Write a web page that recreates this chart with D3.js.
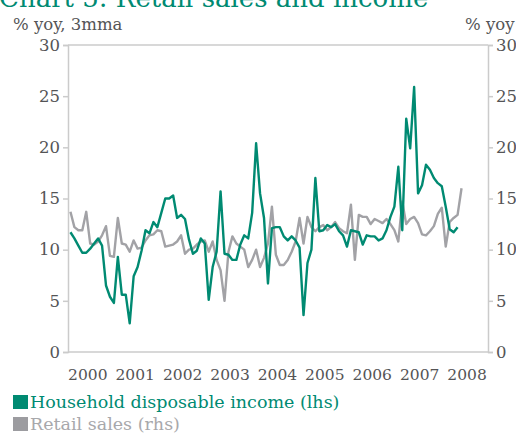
<!DOCTYPE html>
<html>
<head>
<meta charset="utf-8">
<script src="https://cdn.jsdelivr.net/npm/d3@7"></script>
<style>
  body { margin: 0; background: #fff; }
  svg { display: block; font-family: 'DejaVu Serif', serif; }
</style>
</head>
<body>
<svg id="chart" width="516" height="433"></svg>
<script>
// monthly data, first point Feb 2000 (month index 1 = Feb 2000)
const incomeStart = 1;
const incomeValues = [
  11.7, 11.1, 10.4, 9.7, 9.7, 10.1, 10.6, 11.1, 10.4, 6.5,
  5.4, 4.8, 9.3, 5.6, 5.6, 2.8, 7.4, 8.3, 9.9, 11.9,
  11.6, 12.7, 12.2, 13.6, 15.0, 15.0, 15.3, 13.1, 13.4, 13.0,
  11.0, 9.6, 9.9, 11.1, 10.6, 5.1, 8.3, 9.8, 15.7, 9.6,
  9.5, 9.0, 9.0, 10.5, 11.4, 11.1, 13.6, 20.4, 15.5, 13.1,
  6.7, 12.1, 12.2, 12.2, 11.3, 10.9, 11.3, 10.9, 10.2, 3.6,
  8.7, 10.0, 17.0, 11.8, 11.9, 12.4, 12.2, 12.5, 11.8, 11.4,
  10.3, 11.9, 11.8, 11.7, 10.5, 11.4, 11.3, 11.3, 10.9, 11.1,
  11.9, 13.2, 14.2, 18.1, 11.9, 22.8, 19.9, 25.9, 15.5, 16.3,
  18.3, 17.8, 17.0, 16.5, 16.2, 14.2, 12.0, 11.7, 12.2
];
const retailStart = 1;
const retailValues = [
  13.7, 12.2, 11.9, 11.9, 13.7, 10.6, 10.5, 10.8, 11.4, 12.3,
  9.4, 9.3, 13.1, 10.6, 10.5, 9.8, 10.9, 10.1, 10.2, 10.9,
  11.4, 11.5, 11.9, 11.8, 10.3, 10.4, 10.5, 10.8, 11.4, 9.6,
  10.0, 10.1, 10.5, 10.8, 10.9, 9.8, 10.8, 9.0, 8.0, 5.0,
  9.8, 11.3, 10.6, 10.3, 10.0, 8.3, 9.0, 10.0, 8.3, 9.2,
  10.6, 14.2, 9.5, 8.5, 8.5, 9.0, 9.8, 10.8, 13.1, 10.6,
  13.2, 12.2, 11.8, 12.2, 12.4, 11.9, 12.2, 12.7, 12.1, 11.8,
  11.6, 14.4, 9.0, 13.4, 13.2, 13.2, 12.5, 13.0, 12.8, 12.6,
  13.0, 12.5, 11.9, 10.8, 14.7, 12.5, 13.0, 13.2, 12.6, 11.5,
  11.4, 11.8, 12.3, 13.5, 14.1, 10.3, 12.7, 13.1, 13.4, 16.0
];
const yearLabels = ['2000', '2001', '2002', '2003', '2004', '2005', '2006', '2007', '2008'];
const yTicks = [0, 5, 10, 15, 20, 25, 30];
const legendItems = ['Household disposable income (lhs)', 'Retail sales (rhs)'];

(function() {
  'use strict';

  const green = '#008a72';
  const grey = '#a2a2a6';
  const axisGrey = '#cbcbcb';
  const labelGrey = '#545456';

  let svg = d3.select('#chart');
  let left = 68, right = 488, top = 45, bottom = 352;

  let x = d3.scaleLinear().domain([0.38, 106.7]).range([left, right]);
  let yL = d3.scaleLinear().domain([0, 30]).range([bottom, top]);
  let yR = d3.scaleLinear().domain([0, 30]).range([bottom, top]);

  // Title (mostly cut off at the top, as in the original)
  svg.append('text')
    .attr('x', -1).attr('y', 7)
    .style('font-size', '26px')
    .style('fill', green)
    .text('Chart 5: Retail sales and income');

  // Unit labels
  svg.append('text')
    .attr('x', 13).attr('y', 30)
    .style('font-size', '16.5px')
    .style('fill', labelGrey)
    .text('% yoy, 3mma');
  svg.append('text')
    .attr('x', 465).attr('y', 30)
    .style('font-size', '16.5px')
    .style('fill', labelGrey)
    .text('% yoy');

  // Frame lines top and bottom
  svg.append('line')
    .attr('x1', left).attr('x2', right)
    .attr('y1', yL(30)).attr('y2', yL(30))
    .style('stroke', axisGrey).style('stroke-width', 1.5);
  svg.append('line')
    .attr('x1', left).attr('x2', right)
    .attr('y1', yL(0)).attr('y2', yL(0))
    .style('stroke', axisGrey).style('stroke-width', 1.5);

  // Left axis
  let axisL = svg.append('g')
    .attr('transform', 'translate(' + left + ',0)')
    .call(d3.axisLeft(yL).tickValues(yTicks).tickSize(5).tickPadding(3));
  // Right axis
  let axisR = svg.append('g')
    .attr('transform', 'translate(' + right + ',0)')
    .call(d3.axisRight(yR).tickValues(yTicks).tickSize(5).tickPadding(3));

  [axisL, axisR].forEach(a => {
    a.select('.domain').style('stroke', axisGrey).style('stroke-width', 1.5);
    a.selectAll('.tick line').style('stroke', axisGrey).style('stroke-width', 1.5);
    a.selectAll('.tick text')
      .style('font-family', 'DejaVu Serif, serif')
      .style('font-size', '16.5px')
      .style('fill', labelGrey);
  });

  // Year labels, centred on each year
  svg.append('g')
    .selectAll('text')
    .data(yearLabels)
    .enter()
    .append('text')
    .attr('x', (d, i) => x(i * 12 + 5.4))
    .attr('y', 380)
    .style('text-anchor', 'middle')
    .style('font-size', '15.5px')
    .style('fill', labelGrey)
    .text(d => d);

  // Lines
  let lineL = d3.line()
    .x((d, i) => x(incomeStart + i))
    .y(d => yL(d));
  let lineR = d3.line()
    .x((d, i) => x(retailStart + i))
    .y(d => yR(d));

  svg.append('path')
    .datum(retailValues)
    .attr('d', lineR)
    .style('fill', 'none')
    .style('stroke', grey)
    .style('stroke-width', 2.4)
    .style('stroke-linejoin', 'round');

  svg.append('path')
    .datum(incomeValues)
    .attr('d', lineL)
    .style('fill', 'none')
    .style('stroke', green)
    .style('stroke-width', 2.4)
    .style('stroke-linejoin', 'round');

  // Legend
  let legendColors = [green, '#9c9ca0'];
  let legendText = [green, '#a8a8ab'];
  let legend = svg.append('g')
    .selectAll('g')
    .data(legendItems)
    .enter()
    .append('g')
    .attr('transform', (d, i) => 'translate(13,' + (395 + i * 22) + ')');
  legend.append('rect')
    .attr('width', 15).attr('height', 14)
    .style('fill', (d, i) => legendColors[i]);
  legend.append('text')
    .attr('x', 17).attr('y', 13)
    .style('font-size', '17.5px')
    .style('fill', (d, i) => legendText[i])
    .text(d => d);
})();
</script>
</body>
</html>
